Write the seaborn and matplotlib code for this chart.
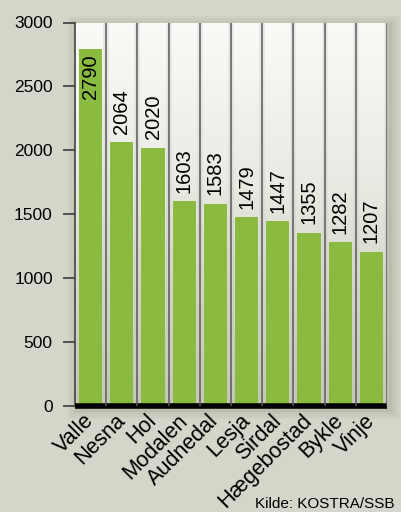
import numpy as np
import matplotlib
matplotlib.use('Agg')
import matplotlib.pyplot as plt
from matplotlib.colors import LinearSegmentedColormap
from matplotlib.patches import Rectangle
import seaborn as sns

kommuner = ['Valle', 'Nesna', 'Hol', 'Modalen', 'Audnedal', 'Lesja', 'Sirdal',
            'Hægebostad', 'Bykle', 'Vinje']
verdier = [2790, 2064, 2020, 1603, 1583, 1479, 1447, 1355, 1282, 1207]
yticks = [0, 500, 1000, 1500, 2000, 2500, 3000]

bg = '#d3d6c8'
green = '#8bba41'

sns.set_style('white')
plt.rcParams['font.family'] = ['Liberation Sans', 'DejaVu Sans']
plt.rcParams['text.color'] = 'black'
plt.rcParams['xtick.color'] = 'black'
plt.rcParams['ytick.color'] = 'black'

fig = plt.figure(figsize=(4.02, 5.12), dpi=100, facecolor=bg)
ax = fig.add_axes([75 / 402, 1 - 406 / 512, 312 / 402, 383.5 / 512])

# soft drop shadow behind the plot area
for i, a in enumerate([0.05, 0.05, 0.06, 0.07]):
    d = (4 - i) * 2.5
    fig.patches.append(Rectangle(((75 - d + 3) / 402, 1 - (406 + d + 3) / 512),
                                 (312 + 2 * d) / 402, (383.5 + 2 * d) / 512,
                                 transform=fig.transFigure, color='#6b6e5e',
                                 alpha=a, zorder=-5, lw=0))

# background gradient inside the plot
grad = LinearSegmentedColormap.from_list(
    'g', [(0, '#c4c8b2'), (0.35, '#d8dacd'), (0.6, '#eaebe4'), (1, '#fafaf8')])
ax.imshow(np.linspace(0, 1, 256).reshape(-1, 1), cmap=grad, aspect='auto',
          extent=(-0.5, 9.5, 3000, 0), zorder=0)

sns.barplot(x=kommuner, y=verdier, color=green, saturation=1, width=0.74,
            linewidth=0, ax=ax, zorder=2)

# separators between the categories
for xi in np.arange(0.5, 10, 1):
    ax.axvline(xi, color='#c8c8c6', lw=4, alpha=0.35, zorder=1)
    ax.axvline(xi, color='#5a5a5a', lw=1.1, zorder=3)

for i, v in enumerate(verdier):
    if v > 2600:
        ax.text(i, v - 40, str(v), rotation=90, ha='center', va='top', fontsize=14.5, zorder=4)
    else:
        ax.text(i, v + 65, str(v), rotation=90, ha='center', va='bottom', fontsize=14.5, zorder=4)

ax.set_xlim(-0.5, 9.5)
ax.set_ylim(0, 3000)
ax.set_yticks(yticks)
ax.set_yticklabels([str(t) for t in yticks], fontsize=12.5)
ax.yaxis.get_major_ticks()[0].tick1line.set_visible(False)
ax.tick_params(axis='y', left=True, length=9, width=1.3, color='#444444', pad=7)
ax.tick_params(axis='x', bottom=False, pad=5)
ax.set_xticks(range(len(kommuner)))
ax.set_xticklabels(kommuner, rotation=45, ha='right', va='center', rotation_mode='anchor',
                   fontsize=15.5)

for s in ['top', 'right']:
    ax.spines[s].set_visible(False)
ax.spines['left'].set_color('#444444')
ax.spines['left'].set_linewidth(1.2)
ax.spines['bottom'].set_color('black')
ax.spines['bottom'].set_linewidth(4)
ax.spines['bottom'].set_capstyle('butt')

fig.text(255 / 402, 1 - 497 / 512, 'Kilde: KOSTRA/SSB', fontsize=11, va='top', ha='left')

fig.savefig('out.png', dpi=100, facecolor=bg)
